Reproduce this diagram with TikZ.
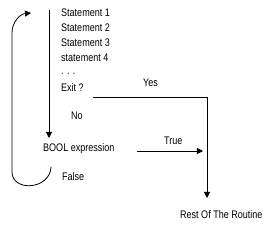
\documentclass[tikz,border=0pt]{standalone}
\usepackage{fontspec}
\setmainfont{Liberation Sans}[FakeStretch=0.82]
\usetikzlibrary{arrows.meta}
\begin{document}
\begin{tikzpicture}[x=1pt,y=-1pt,
  lbl/.style={font=\fontsize{11}{13}\selectfont, inner sep=0pt, anchor=west},
  ln/.style={line width=0.8pt},
  arr/.style={ln,-{Triangle[length=6pt,width=6pt]}}]
\useasboundingbox (0,0) rectangle (274,227);
\node[lbl] (s1) at (61,13) {Statement 1};
\node[lbl] (s2) at (61,28) {Statement 2};
\node[lbl] (s3) at (61,43) {Statement 3};
\node[lbl] (s4) at (61,58) {statement 4};
\node[lbl] (dots) at (61,74) {. . .};
\node[lbl] (exit) at (61,88) {Exit ?};
\node[lbl] (no) at (71,116) {No};
\node[lbl] (bool) at (43,149) {BOOL expression};
\node[lbl] (false) at (62,177) {False};
\node[lbl] (yes) at (143,83) {Yes};
\node[lbl] (true) at (164,141) {True};
\node[lbl] (rest) at (180,215) {Rest Of The Routine};
\coordinate (top) at (49,10);
\coordinate (boolin) at (49,138);
\coordinate (ex0) at (93,97);
\coordinate (ex1) at (207,97);
\coordinate (restin) at (207,198);
\coordinate (tr0) at (137,151);
\coordinate (tr1) at (203,151);
\coordinate (lp0) at (51,167);
\coordinate (lp1) at (12,172);
\coordinate (lp2) at (12,33);
\coordinate (lp3) at (31,13);
\draw[arr] (top) -- (boolin);
\draw[arr] (ex0) -- (ex1) -- (restin);
\draw[arr] (tr0) -- (tr1);
\draw[arr] (lp0) .. controls (50,190) and (12,192) .. (lp1) -- (lp2) .. controls (12,22) and (20,14) .. (lp3);
\end{tikzpicture}
\end{document}
